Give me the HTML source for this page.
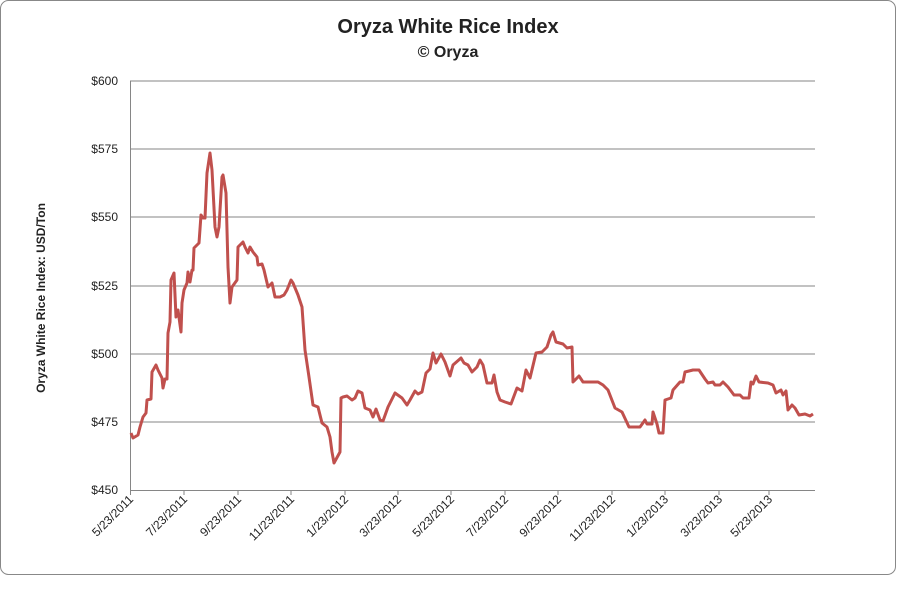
<!DOCTYPE html>
<html><head><style>body{margin:0;background:#fff}svg{display:block}</style></head><body>
<svg width="897" height="600" xmlns="http://www.w3.org/2000/svg" font-family="Liberation Sans, sans-serif">
<rect x="0.5" y="0.5" width="895" height="574" rx="8" fill="#fff" stroke="#888"/>
<text x="448" y="33" text-anchor="middle" font-size="20" font-weight="bold" fill="#222">Oryza White Rice Index</text>
<text x="448" y="57" text-anchor="middle" font-size="16" font-weight="bold" fill="#222">© Oryza</text>
<g stroke="#868686" stroke-width="1">
<line x1="130" y1="81" x2="815" y2="81"/><line x1="130" y1="149" x2="815" y2="149"/>
<line x1="130" y1="217" x2="815" y2="217"/><line x1="130" y1="286" x2="815" y2="286"/>
<line x1="130" y1="354" x2="815" y2="354"/><line x1="130" y1="422" x2="815" y2="422"/>
<line x1="130" y1="490.5" x2="815" y2="490.5"/><line x1="130.5" y1="81" x2="130.5" y2="495"/>
<line x1="184" y1="490" x2="184" y2="495"/><line x1="238" y1="490" x2="238" y2="495"/><line x1="291" y1="490" x2="291" y2="495"/><line x1="345" y1="490" x2="345" y2="495"/><line x1="398" y1="490" x2="398" y2="495"/><line x1="451" y1="490" x2="451" y2="495"/><line x1="505" y1="490" x2="505" y2="495"/><line x1="558" y1="490" x2="558" y2="495"/><line x1="612" y1="490" x2="612" y2="495"/><line x1="665" y1="490" x2="665" y2="495"/><line x1="719" y1="490" x2="719" y2="495"/><line x1="769" y1="490" x2="769" y2="495"/>
</g>
<g font-size="12" fill="#222" text-anchor="end">
<text x="118" y="85">$600</text><text x="118" y="153">$575</text><text x="118" y="221">$550</text><text x="118" y="290">$525</text><text x="118" y="358">$500</text><text x="118" y="426">$475</text><text x="118" y="494">$450</text>
</g>
<g font-size="12" fill="#222" text-anchor="end">
<text transform="translate(134,500) rotate(-45)">5/23/2011</text>
<text transform="translate(188,500) rotate(-45)">7/23/2011</text>
<text transform="translate(242,500) rotate(-45)">9/23/2011</text>
<text transform="translate(295,500) rotate(-45)">11/23/2011</text>
<text transform="translate(349,500) rotate(-45)">1/23/2012</text>
<text transform="translate(402,500) rotate(-45)">3/23/2012</text>
<text transform="translate(455,500) rotate(-45)">5/23/2012</text>
<text transform="translate(509,500) rotate(-45)">7/23/2012</text>
<text transform="translate(562,500) rotate(-45)">9/23/2012</text>
<text transform="translate(616,500) rotate(-45)">11/23/2012</text>
<text transform="translate(669,500) rotate(-45)">1/23/2013</text>
<text transform="translate(723,500) rotate(-45)">3/23/2013</text>
<text transform="translate(773,500) rotate(-45)">5/23/2013</text>
</g>
<text transform="translate(45,298) rotate(-90)" text-anchor="middle" font-size="12" font-weight="bold" fill="#222">Oryza White Rice Index: USD/Ton</text>
<polyline fill="none" stroke="#c0504d" stroke-width="3" stroke-linejoin="round" points="131,433 133,438 138,435 140,427 143,417 146,413 147,400 151,399 152,372 156,365 158,370 162,378 163,388 165,379 167,379 168,333 170,322 171,280 174,273 176,317 178,310 181,332 182,303 184,290 187,283 188,272 190,282 192,270 193,270 194,248 199,243 201,215 203,218 205,218 207,173 210,153 212,170 215,227 217,237 219,227 222,177 223,175 226,193 228,267 230,303 232,287 237,280 238,247 243,242 245,247 248,253 250,247 253,252 257,257 258,265 262,264 264,270 268,287 272,283 275,297 280,297 284,295 287,290 291,280 293,283 298,295 302,307 305,350 309,377 313,405 318,407 322,423 327,427 330,437 332,452 334,463 340,452 341,398 343,397 347,396 352,400 355,398 358,391 362,393 365,408 370,410 373,417 376,409 380,420 383,421 388,407 395,393 402,398 407,405 410,400 415,391 418,394 422,392 426,373 430,369 433,353 436,363 441,354 445,362 450,376 453,365 461,358 464,363 468,365 472,372 477,367 480,360 483,365 487,383 492,383 494,375 497,392 500,400 505,402 511,404 517,388 522,391 526,370 530,378 536,353 542,352 547,347 551,335 553,332 556,342 563,344 567,348 572,347 573,382 579,376 583,382 588,382 598,382 603,385 608,390 615,408 622,412 629,427 635,427 640,427 645,420 647,424 652,424 653,412 657,424 659,433 663,433 665,400 671,398 673,390 680,382 683,382 685,372 693,370 699,370 705,379 708,383 713,382 715,385 720,385 723,382 728,387 734,395 740,395 743,398 749,398 751,382 753,384 756,376 759,382 768,383 773,385 776,393 781,390 783,395 786,391 788,410 792,405 795,408 799,415 805,414 810,416 813,414"/>
</svg>
</body></html>
